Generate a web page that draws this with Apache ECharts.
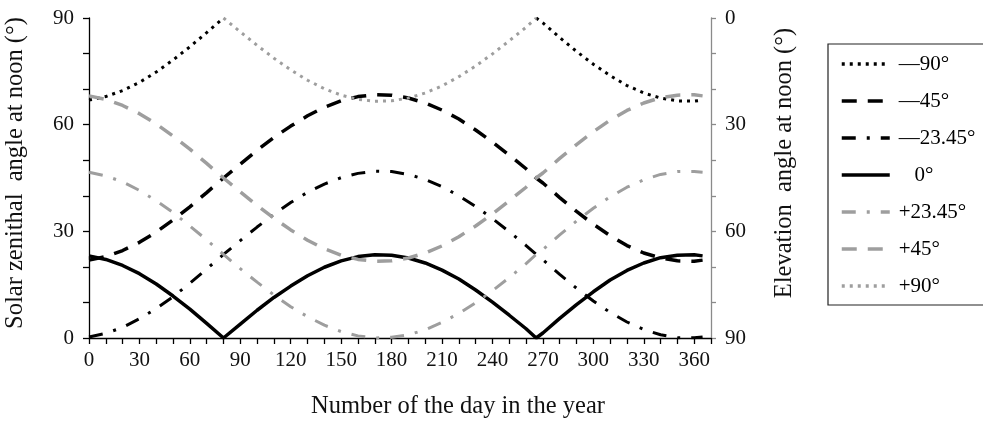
<!DOCTYPE html>
<html><head><meta charset="utf-8">
<script src="https://cdn.jsdelivr.net/npm/echarts@6/dist/echarts.min.js"></script>
<style>html,body{margin:0;padding:0;background:#fff}#c{width:983px;height:422px}</style>
</head><body><div id="c"></div>
<script>
// Day of the year (x values)
const days = [0,10,20,30,40,50,60,70,80,90,100,110,120,130,140,150,160,170,180,190,200,210,220,230,240,250,260,266,270,280,290,300,310,320,330,340,350,360,365];
// Solar zenithal angle at noon (deg) for each latitude
const latM90 = [66.9,67.9,69.6,71.9,74.8,78.2,81.9,85.9,90,null,null,null,null,null,null,null,null,null,null,null,null,null,null,null,null,null,null,90,88.6,84.5,80.6,77.0,73.8,71.0,68.9,67.5,66.7,66.6,66.9];
const latM45 = [21.9,22.9,24.6,26.9,29.8,33.2,36.9,40.9,45,48.9,52.8,56.4,59.6,62.5,64.9,66.7,67.9,68.4,68.3,67.5,66.1,64.1,61.6,58.5,55.1,51.4,47.6,45,43.6,39.5,35.6,32.0,28.8,26.0,23.9,22.5,21.7,21.6,21.9];
const latM23 = [0.3,1.3,3.0,5.4,8.3,11.6,15.4,19.4,23.5,27.4,31.2,34.8,38.1,41.0,43.3,45.1,46.3,46.9,46.8,46.0,44.6,42.6,40.0,37.0,33.6,29.9,26.0,23.5,22.0,17.9,14.0,10.4,7.2,4.5,2.4,0.9,0.1,0.1,0.3];
const lat0   = [23.1,22.1,20.4,18.1,15.2,11.8,8.1,4.1,0,3.9,7.8,11.4,14.6,17.5,19.9,21.7,22.9,23.4,23.3,22.5,21.1,19.1,16.6,13.5,10.1,6.4,2.6,0,1.4,5.5,9.4,13.0,16.3,19.0,21.1,22.6,23.3,23.4,23.1];
const latP23 = [46.6,45.6,43.9,41.5,38.6,35.3,31.5,27.6,23.5,19.5,15.7,12.1,8.8,6.0,3.6,1.8,0.6,0.0,0.2,0.9,2.3,4.4,6.9,9.9,13.3,17.0,20.9,23.5,24.9,29.0,32.9,36.5,39.7,42.4,44.5,46.0,46.8,46.8,46.6];
const latP45 = [68.1,67.1,65.4,63.1,60.2,56.8,53.1,49.1,45,41.1,37.3,33.7,30.4,27.5,25.1,23.3,22.1,21.6,21.7,22.5,23.9,25.9,28.5,31.5,34.9,38.6,42.4,45,46.4,50.5,54.4,58.0,61.3,64.0,66.1,67.6,68.3,68.4,68.1];
const latP90 = [null,null,null,null,null,null,null,null,90,86.1,82.3,78.7,75.4,72.5,70.1,68.3,67.1,66.6,66.7,67.5,68.9,70.9,73.5,76.5,79.9,83.6,87.4,90,null,null,null,null,null,null,null,null,null,null,null];
const seriesNames = ['—90°','—45°','—23.45°','   0°','+23.45°','+45°','+90°'];
const xTickLabels = [0,30,60,90,120,150,180,210,240,270,300,330,360];
const yTickLabels = [0,30,60,90];

const FONT = '"Liberation Serif", "Times New Roman", serif';
const BLACK = '#000';
const GRAY = '#9e9e9e';
const pair = arr => days.map((d,i) => [d, arr[i]]);

const styles = [
  {color: BLACK, width: 3, type: [3, 5]},
  {color: BLACK, width: 3.5, type: [15, 11]},
  {color: BLACK, width: 3, type: [14, 11, 3, 11]},
  {color: BLACK, width: 3.5, type: 'solid'},
  {color: GRAY, width: 3, type: [14, 11, 3, 11]},
  {color: GRAY, width: 3.5, type: [15, 11]},
  {color: GRAY, width: 3, type: [3, 5]}
];
const datasets = [latM90, latM45, latM23, lat0, latP23, latP45, latP90];

const chart = echarts.init(document.getElementById('c'), null, {renderer: 'canvas'});
chart.setOption({
  animation: false,
  backgroundColor: '#fff',
  grid: {left: 89, right: 272, top: 18, bottom: 84},
  legend: {
    orient: 'vertical', left: 828, top: 44,
    itemWidth: 48, itemHeight: 14, itemGap: 15,
    padding: [9, 12, 8, 12],
    borderColor: '#222', borderWidth: 1.2,
    itemStyle: {opacity: 0, color: 'rgba(0,0,0,0)', borderWidth: 0},
    lineStyle: {width: 3.5},
    textStyle: {fontFamily: FONT, fontSize: 21, color: '#000', width: 140, lineHeight: 22, padding: [0,0,0,4]},
    data: seriesNames
  },
  xAxis: {
    type: 'value', min: 0, max: 370, interval: 10,
    axisLine: {lineStyle: {color: BLACK, width: 1.3}},
    axisTick: {length: 6, lineStyle: {color: BLACK, width: 1.3}},
    splitLine: {show: false},
    axisLabel: {margin: 12, fontFamily: FONT, fontSize: 21, color: '#111',
      formatter: v => xTickLabels.includes(v) ? String(v) : ''}
  },
  yAxis: [{
    type: 'value', min: 0, max: 90, interval: 10, position: 'left',
    axisLine: {show: true, lineStyle: {color: BLACK, width: 1.3}},
    axisTick: {show: true, length: 6, lineStyle: {color: BLACK, width: 1.3}},
    splitLine: {show: false},
    axisLabel: {margin: 15, fontFamily: FONT, fontSize: 21, color: '#111',
      formatter: v => yTickLabels.includes(v) ? String(v) : ''}
  }, {
    type: 'value', min: 0, max: 90, interval: 10, position: 'right', inverse: true,
    axisLine: {show: true, lineStyle: {color: '#8a8a8a', width: 1.3}},
    axisTick: {show: true, length: 5, lineStyle: {color: '#8a8a8a', width: 1.3}},
    splitLine: {show: false},
    axisLabel: {margin: 14, fontFamily: FONT, fontSize: 21, color: '#111',
      formatter: v => yTickLabels.includes(v) ? String(v) : ''}
  }],
  graphic: [
    {type: 'text', x: 16, y: 173, rotation: Math.PI / 2,
      style: {text: 'Solar zenithal  angle at noon (°)', font: '24.5px ' + FONT, fill: '#111', textAlign: 'center', textVerticalAlign: 'middle'}},
    {type: 'text', x: 785, y: 163, rotation: Math.PI / 2,
      style: {text: 'Elevation  angle at noon (°)', font: '24.5px ' + FONT, fill: '#111', textAlign: 'center', textVerticalAlign: 'middle'}},
    {type: 'text', x: 458, y: 407,
      style: {text: 'Number of the day in the year', font: '24.5px ' + FONT, fill: '#111', textAlign: 'center', textVerticalAlign: 'middle'}}
  ],
  series: datasets.map((arr, i) => ({
    name: seriesNames[i], type: 'line', xAxisIndex: 0, yAxisIndex: 0,
    data: pair(arr), showSymbol: false, symbol: 'none', connectNulls: false,
    lineStyle: styles[i], itemStyle: {color: styles[i].color}
  }))
});
</script></body></html>
